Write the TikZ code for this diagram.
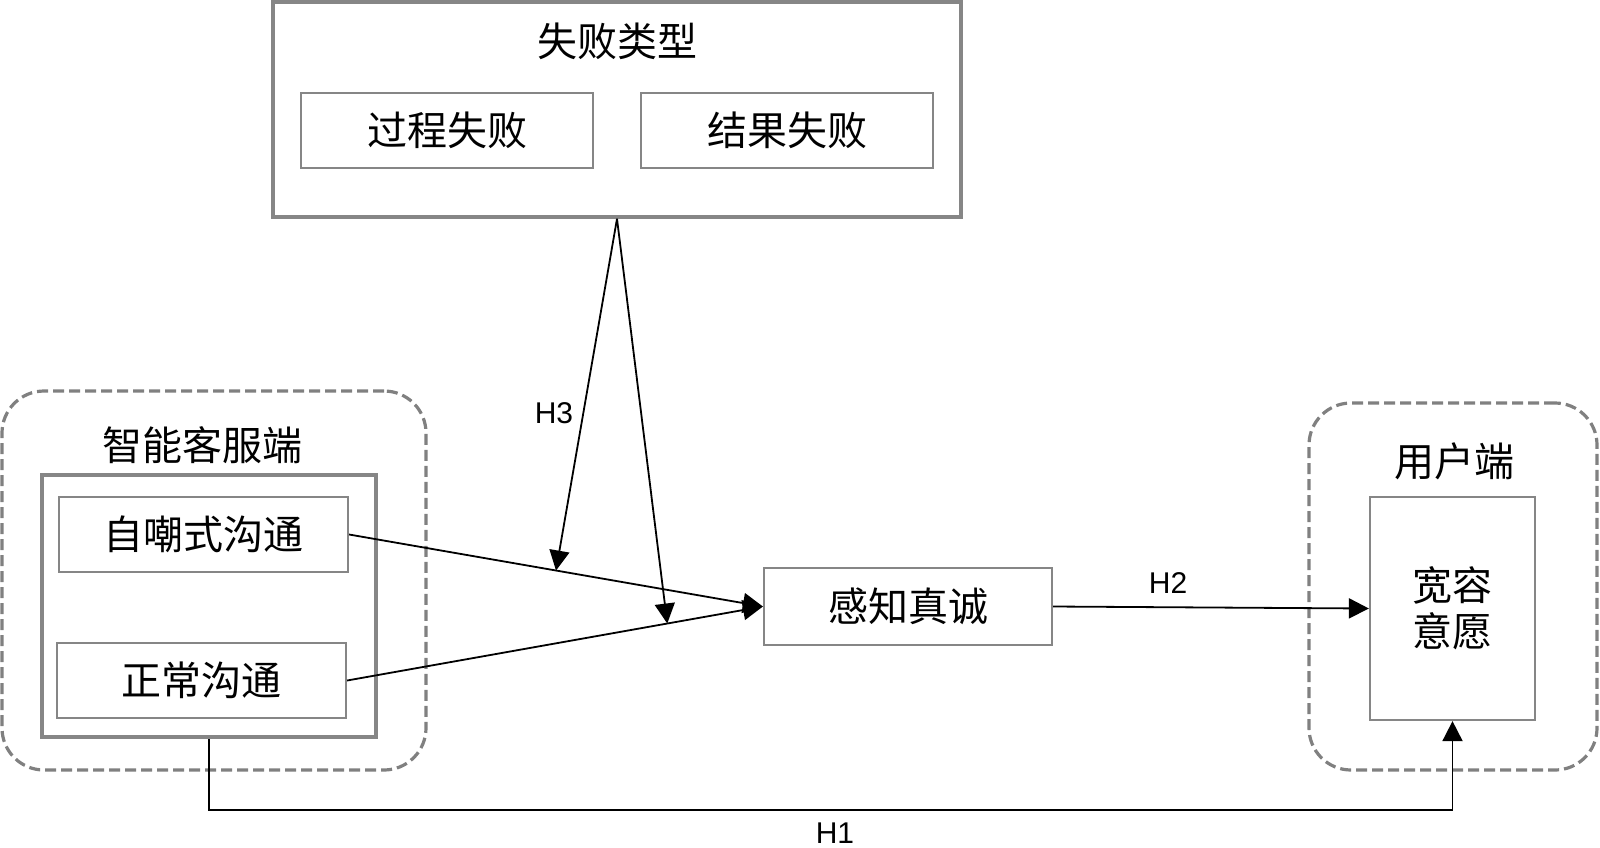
\documentclass[tikz,border=0pt]{standalone}
\usepackage{fontspec}
\setmainfont{Liberation Sans}
\newfontfamily\cjk{Noto Sans CJK SC}
\usetikzlibrary{arrows.meta, calc}

\begin{document}
\begin{tikzpicture}[x=0.5pt,y=-0.5pt,
	box/.style={draw=gray!95, line width=1.1pt, fill=white, inner sep=0pt,
		font=\cjk\fontsize{20pt}{23pt}\selectfont, align=center},
	bigbox/.style={draw=gray!95, line width=1.8pt, inner sep=0pt},
	group/.style={draw=gray, line width=1.6pt, dash pattern=on 5.5pt off 2.5pt,
		rounded corners=21pt, inner sep=0pt},
	title/.style={font=\cjk\fontsize{20pt}{23pt}\selectfont, inner sep=0pt},
	hlabel/.style={font=\fontsize{15pt}{18pt}\selectfont, inner sep=0pt},
	arr/.style={line width=0.9pt, -{Triangle[length=10pt,width=10pt]}}]
			\useasboundingbox (0,0) rectangle (1600,847);
			\node[bigbox, minimum width=343.75pt, minimum height=107.5pt] (ft) at (617,109.5) {};
			\node[title] (fttitle) at (617,41) {失败类型};
			\node[box, minimum width=146pt, minimum height=37.5pt] (gc) at (447,130.5) {过程失败};
			\node[box, minimum width=146pt, minimum height=37.5pt] (jg) at (787,130.5) {结果失败};
			\node[group, minimum width=212pt, minimum height=189.5pt] (kfgroup) at (214,580.5) {};
			\node[title] (kftitle) at (202,445) {智能客服端};
			\node[bigbox, minimum width=166.75pt, minimum height=131.25pt] (kf) at (209,606) {};
			\node[box, minimum width=144.5pt, minimum height=37.5pt] (zc) at (203.5,534.5) {自嘲式沟通};
			\node[box, minimum width=144.5pt, minimum height=37.5pt] (zcn) at (201.5,680.5) {正常沟通};
			\node[box, minimum width=144pt, minimum height=38.5pt] (gz) at (908,606.5) {感知真诚};
			\node[group, minimum width=144pt, minimum height=183.5pt] (yhgroup) at (1453,586.5) {};
			\node[title] (yhtitle) at (1454,461) {用户端};
			\node[box, minimum width=82.5pt, minimum height=111.5pt] (ky) at (1452.5,608.5) {宽容\\意愿};
			\coordinate (m1) at ($(zc.east)!0.5!(gz.west)$);
			\coordinate (m2) at ($(zcn.east)!0.77!(gz.west)$);
			\draw[arr] (zc.east) -- (gz.west);
			\draw[arr] (zcn.east) -- (gz.west);
			\draw[arr] (ft.south) -- (m1);
			\draw[arr] (ft.south) -- (m2);
			\draw[arr] (gz.east) -- (ky.west);
			\draw[arr] (kf.south) -- ++(0,71) -| (ky.south);
			\node[hlabel] (h1) at (835,833) {H1};
			\node[hlabel] (h2) at (1168,583) {H2};
			\node[hlabel] (h3) at (554,413) {H3};
		\end{tikzpicture}
\end{document}
